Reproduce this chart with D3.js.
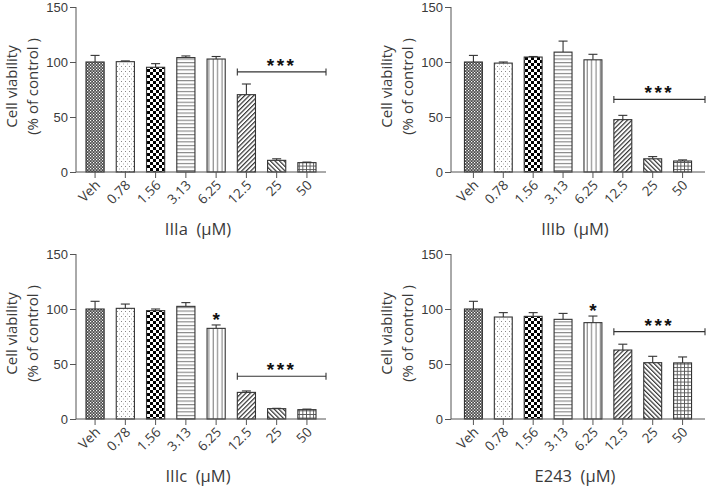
<!DOCTYPE html>
<html><head><meta charset="utf-8">
<script src="https://cdn.jsdelivr.net/npm/d3@7"></script>
<style>
body{margin:0;background:#fff;}
svg{display:block;}
</style></head>
<body>
<svg id="chart" width="708" height="488"></svg>
<script>
const categories = ["Veh","0.78","1.56","3.13","6.25","12.5","25","50"];
const yTicks = [0,50,100,150];

const meanIIIa = [100,100.3,95.2,104,102.7,70.3,10.6,8.5];
const errIIIa  = [6,0.7,3.3,1.5,2.3,9.7,1.4,0.5];
const meanIIIb = [100,99,104.5,109,102,47.6,12,10];
const errIIIb  = [6,1,0.5,10,5,3.9,2,1];
const meanIIIc = [100,100.6,98.5,102.4,82.4,24.2,9.4,8.5];
const errIIIc  = [7,3.9,1.5,3.4,3.1,1.3,0.3,0.5];
const meanE243 = [100,92.7,93.3,90.6,87.6,62.7,51.2,51];
const errE243  = [7,4,3.4,5.4,6,5.3,5.8,5.4];

const compounds = ["IIIa","IIIb","IIIc","E243"];
const bracketLevel = [91,66,38.8,79.4];   // y value of the *** bracket
const singleStarIndex = [null,null,4,4];  // bar carrying a single *

const means = [meanIIIa, meanIIIb, meanIIIc, meanE243];
const errs  = [errIIIa, errIIIb, errIIIc, errE243];

const svg = d3.select("#chart");
const defs = svg.append("defs");
const TXT = "#3a3a3a";
const AX = "#555";

// ---------- patterns ----------
function pat(id, w, h, build){
  const p = defs.append("pattern").attr("id", id).attr("patternUnits","userSpaceOnUse")
    .attr("width", w).attr("height", h);
  p.append("rect").attr("width", w).attr("height", h).attr("fill", "#fff");
  build(p);
}
pat("p0", 3, 3, p => {           // fine checker
  p.append("rect").attr("width",3).attr("height",3).attr("fill","#4a4a4a");
  p.append("rect").attr("x",0).attr("y",0).attr("width",1.2).attr("height",1.2).attr("fill","#fff");
  p.append("rect").attr("x",1.5).attr("y",1.5).attr("width",1.2).attr("height",1.2).attr("fill","#fff");
});
pat("p1", 4, 5, p => {           // sparse dots
  p.append("rect").attr("x",1).attr("y",1).attr("width",1).attr("height",1).attr("fill","#888");
  p.append("rect").attr("x",3).attr("y",3.5).attr("width",1).attr("height",1).attr("fill","#aaa");
});
pat("p2", 6, 6, p => {           // bold checker
  p.append("rect").attr("width",3).attr("height",3).attr("fill","#000");
  p.append("rect").attr("x",3).attr("y",3).attr("width",3).attr("height",3).attr("fill","#000");
});
pat("p3", 18, 3.6, p => {        // horizontal lines
  p.append("rect").attr("x",0).attr("y",1).attr("width",18).attr("height",1).attr("fill","#777");
});
pat("p4", 4.4, 10, p => {        // vertical lines
  p.append("rect").attr("x",1.5).attr("y",0).attr("width",1).attr("height",10).attr("fill","#777");
});
pat("p5", 3.2, 3.2, p => {       // diagonal /
  p.attr("patternTransform","rotate(45)");
  p.append("rect").attr("x",0).attr("y",0).attr("width",1.2).attr("height",3.2).attr("fill","#333");
});
pat("p6", 3.2, 3.2, p => {       // diagonal \
  p.attr("patternTransform","rotate(-45)");
  p.append("rect").attr("x",0).attr("y",0).attr("width",1.2).attr("height",3.2).attr("fill","#333");
});
pat("p7", 3.6, 3.6, p => {       // grid
  p.append("rect").attr("x",0).attr("y",0).attr("width",3.6).attr("height",0.9).attr("fill","#555");
  p.append("rect").attr("x",0).attr("y",0).attr("width",0.9).attr("height",3.6).attr("fill","#555");
});

// ---------- panel layout ----------
const panels = [
  {x0:76,  x1:326, yTop:7,   yBot:172},
  {x0:451, x1:705, yTop:7,   yBot:172},
  {x0:76,  x1:326, yTop:254, yBot:419},
  {x0:451, x1:705, yTop:254, yBot:419}
];

panels.forEach((P, k) => {
  const g = svg.append("g");
  const x = d3.scaleBand().domain(categories).range([P.x0, P.x1])
      .paddingInner(0.4).paddingOuter(k % 2 === 0 ? 0.33 : 0.45);
  const y = d3.scaleLinear().domain([0,150]).range([P.yBot, P.yTop]);
  const data = categories.map((c,i) => ({c, m: means[k][i], e: errs[k][i], i}));
  const bw = x.bandwidth();

  // error bars (upper only)
  const eb = g.append("g").attr("stroke", "#333").attr("stroke-width", 1.1);
  data.forEach(d => {
    const cx = x(d.c) + bw/2;
    eb.append("line").attr("x1",cx).attr("x2",cx).attr("y1",y(d.m)).attr("y2",y(d.m+d.e));
    eb.append("line").attr("x1",cx-4.5).attr("x2",cx+4.5).attr("y1",y(d.m+d.e)).attr("y2",y(d.m+d.e));
  });

  // bars
  g.append("g").selectAll("rect").data(data).join("rect")
    .attr("x", d => x(d.c)).attr("width", bw)
    .attr("y", d => y(d.m)).attr("height", d => y(0) - y(d.m))
    .attr("fill", d => `url(#p${d.i})`)
    .attr("stroke", "#333").attr("stroke-width", 1.1);

  // y axis
  const ya = g.append("g").attr("transform", `translate(${P.x0},0)`)
    .call(d3.axisLeft(y).tickValues(yTicks).tickSize(6).tickPadding(2).tickFormat(d3.format("d")));
  ya.select(".domain").attr("stroke", AX).attr("d", `M0,${P.yBot}V${P.yTop}`);
  ya.selectAll(".tick line").attr("stroke", AX);
  ya.selectAll(".tick text").attr("fill", TXT).style("font-family","'Liberation Sans', Arial, sans-serif").style("font-size","13px");

  // x axis
  const xa = g.append("g").attr("transform", `translate(0,${P.yBot})`)
    .call(d3.axisBottom(x).tickSize(6).tickSizeOuter(0));
  xa.select(".domain").attr("stroke", AX).attr("d", `M${P.x0},0H${P.x1}`);
  xa.selectAll(".tick line").attr("stroke", AX);
  xa.selectAll(".tick text").attr("fill", TXT)
    .style("font-family","'Open Sans', sans-serif").style("font-size","13.5px")
    .attr("text-anchor","end").attr("dy", null).attr("y", null)
    .attr("transform","translate(6,14) rotate(-45)");

  // axis titles
  g.append("text").attr("x", (P.x0 + P.x1)/2 - 3).attr("y", P.yBot + 63)
    .attr("text-anchor","middle").attr("fill", TXT)
    .style("font-family","'Open Sans', sans-serif").style("font-size","16.5px")
    .attr("xml:space","preserve")
    .text(compounds[k] + "  (\u03bcM)");

  const ly = (P.yTop + P.yBot)/2 - 3;
  const lx = P.x0 - 59;
  const yl = g.append("text").attr("transform", `translate(${lx},${ly}) rotate(-90)`)
    .attr("text-anchor","middle").attr("fill", TXT)
    .style("font-family","'Open Sans', sans-serif").style("font-size","15px");
  yl.append("tspan").attr("x",0).attr("y",0).text("Cell viability");
  yl.append("tspan").attr("x",0).attr("y",21).attr("xml:space","preserve").text("(% of control )");

  // significance bracket
  const bx0 = x("12.5"), bx1 = P.x1, by = y(bracketLevel[k]);
  const br = g.append("g").attr("stroke","#333").attr("stroke-width",1.1);
  br.append("line").attr("x1",bx0).attr("x2",bx1).attr("y1",by).attr("y2",by);
  br.append("line").attr("x1",bx0).attr("x2",bx0).attr("y1",by-3.5).attr("y2",by+3.5);
  br.append("line").attr("x1",bx1).attr("x2",bx1).attr("y1",by-3.5).attr("y2",by+3.5);
  g.append("text").attr("x", (bx0+bx1)/2).attr("y", by - 0)
    .attr("text-anchor","middle").attr("fill","#111")
    .style("font-family","'Liberation Sans', Arial, sans-serif").style("font-size","19px")
    .style("font-weight","bold").style("letter-spacing","2.5px").text("***");

  const si = singleStarIndex[k];
  if (si !== null) {
    const d = data[si];
    g.append("text").attr("x", x(d.c) + bw/2).attr("y", y(d.m + d.e) + 1)
      .attr("text-anchor","middle").attr("fill","#111")
      .style("font-family","'Liberation Sans', Arial, sans-serif").style("font-size","19px")
      .style("font-weight","bold").text("*");
  }
});
</script>
</body></html>
